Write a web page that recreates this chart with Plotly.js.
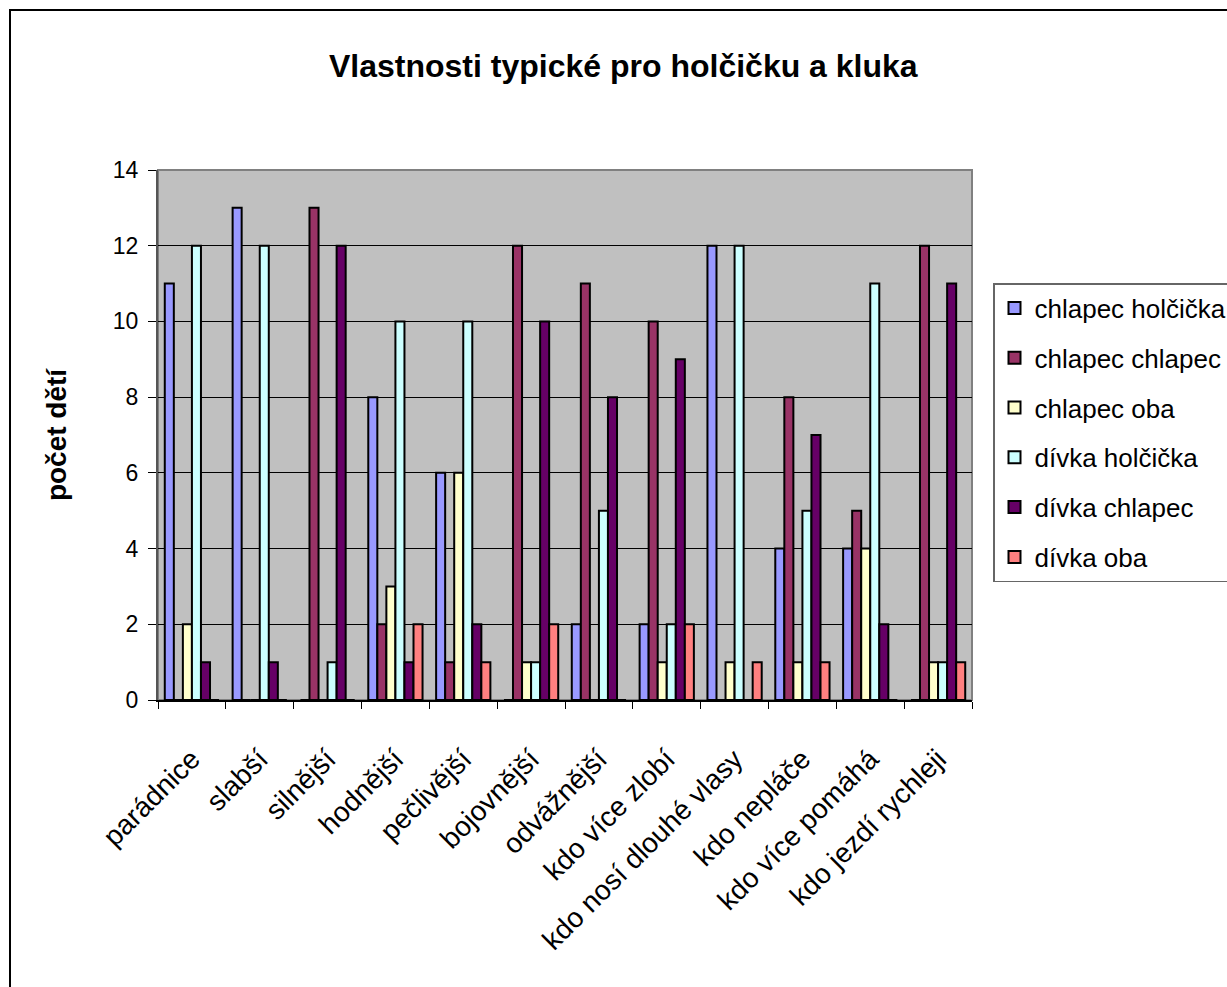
<!DOCTYPE html>
<html>
<head>
<meta charset="utf-8">
<script src="https://cdn.plot.ly/plotly-3.0.1.min.js"></script>
<style>html,body{margin:0;padding:0;background:#fff;}#chart{width:1227px;height:987px;}</style>
</head>
<body>
<div id="chart"></div>
<script>
const categories = ["parádnice","slabší","silnější","hodnější","pečlivější","bojovnější","odvážnější","kdo více zlobí","kdo nosí dlouhé vlasy","kdo nepláče","kdo více pomáhá","kdo jezdí rychleji"];
const chlapecHolcicka = [11,13,0,8,6,0,2,2,12,4,4,0];
const chlapecChlapec  = [0,0,13,2,1,12,11,10,0,8,5,12];
const chlapecOba      = [2,0,0,3,6,1,0,1,1,1,4,1];
const divkaHolcicka   = [12,12,1,10,10,1,5,2,12,5,11,1];
const divkaChlapec    = [1,1,12,1,2,10,8,9,0,7,2,11];
const divkaOba        = [0,0,0,2,1,2,0,2,1,1,0,1];
const seriesNames = ["chlapec holčička","chlapec chlapec","chlapec oba","dívka holčička","dívka chlapec","dívka oba"];
const seriesColors = ["#9999FF","#993366","#FFFFCC","#CCFFFF","#660066","#FF8080"];
const yTicks = [0,2,4,6,8,10,12,14];

const allSeries = [chlapecHolcicka,chlapecChlapec,chlapecOba,divkaHolcicka,divkaChlapec,divkaOba];
const traces = allSeries.map((vals,i)=>({
  type:'bar', x:categories, y:vals, name:seriesNames[i], legendgroup:'g'+i,
  marker:{color:seriesColors[i], line:{color:'#000', width:2}}
}));

const font = 'Arial, "Liberation Sans", sans-serif';
const layout = {
  width:1227, height:987,
  margin:{l:158, r:255, t:170, b:287, autoexpand:false},
  paper_bgcolor:'#fff', plot_bgcolor:'#C0C0C0',
  barmode:'group', bargap:0.2, bargroupgap:0,
  title:{text:'<b>Vlastnosti typické pro holčičku a kluka</b>', font:{family:font, size:32, color:'#000'},
         x:0.508, xref:'container', y:1-66/987, yref:'container', yanchor:'middle', xanchor:'center'},
  font:{family:font, color:'#000'},
  xaxis:{type:'category', tickangle:-45, tickfont:{size:28, family:font}, tickson:'boundaries',
         ticks:'outside', ticklen:7, tickcolor:'#000', showline:true, linecolor:'#000', linewidth:1.5,
         ticklabelstandoff:30, showgrid:false, automargin:false},
  yaxis:{range:[0,14], tickvals:yTicks, ticktext:yTicks.map(String), tickfont:{size:23, family:font},
         ticks:'outside', ticklen:8, tickcolor:'#000', showline:true, linecolor:'#555', linewidth:2,
         ticklabelstandoff:5,
         showgrid:true, gridcolor:'#000', gridwidth:1, zeroline:false, automargin:false,
         title:{text:'<b>počet dětí</b>', font:{size:28, family:font}, standoff:38}},
  legend:{x:(993-158)/814, xanchor:'left', y:(700-283)/530, yanchor:'top',
          bgcolor:'#fff', bordercolor:'#666', borderwidth:1.5,
          font:{size:26, family:font}, tracegroupgap:13, itemwidth:30, traceorder:'grouped'},
  shapes:[
    {type:'rect', xref:'paper', yref:'paper', x0:0, x1:1, y0:0, y1:1, line:{color:'#808080', width:2}, layer:'below'},
    {type:'rect', xref:'paper', yref:'paper', x0:(10-158)/814, x1:1.6, y0:-2, y1:(700-10)/530, line:{color:'#000', width:2}, fillcolor:'rgba(0,0,0,0)'}
  ],
  showlegend:true
};
Plotly.newPlot('chart', traces, layout, {displayModeBar:false, staticPlot:true});
</script>
</body>
</html>
